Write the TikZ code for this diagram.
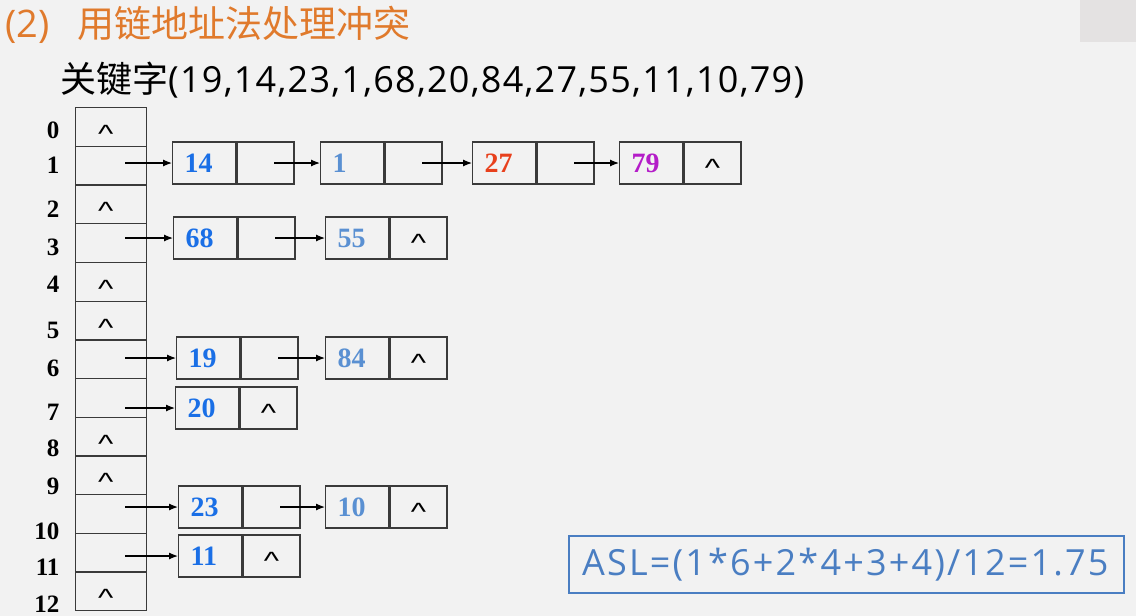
\documentclass[tikz,border=0pt]{standalone}
\usepackage{fontspec}
\usepackage{graphicx}
\setmainfont{Liberation Serif}
\newfontfamily\cjk{Noto Sans CJK SC}
\newfontfamily\osans{Open Sans}
\newfontfamily\osanskeys[LetterSpace=3.5]{Open Sans}
\newfontfamily\osansasl[LetterSpace=6]{Open Sans}
\newfontfamily\caretfont{Liberation Sans}
\usetikzlibrary{arrows.meta,calc}
\definecolor{bgc}{HTML}{F2F2F2}
\definecolor{cornerc}{HTML}{E4E2E2}
\definecolor{boxc}{HTML}{3A3A3A}
\definecolor{orangec}{HTML}{E07A2C}
\definecolor{dblue}{HTML}{1A6FE6}
\definecolor{lblue}{HTML}{5A90D2}
\definecolor{redc}{HTML}{E8401C}
\definecolor{purc}{HTML}{B41CC8}
\definecolor{aslc}{HTML}{4A7EC2}
\newcommand{\caretsym}{{\caretfont\scalebox{1.3}[1]{\textasciicircum}}}
\newcommand{\tcaret}{\makebox[0pt]{\kern-11pt\caretsym}}
\newcommand{\lelem}[6]{%
  \node[keycell, text=#5] (k#1) at (#2,#3) {#4};
  \node[ptrcell] (p#1) at (k#1.east) {#6};}
\begin{document}
\begin{tikzpicture}[x=1pt,y=-1pt,
  tcell/.style={draw=boxc, line width=1.3pt, minimum width=71pt, minimum height=38.7pt,
    inner sep=0pt, anchor=north west, font=\fontsize{25}{25}\selectfont,
    text height=31pt, text depth=0pt},
  keycell/.style={draw=boxc, line width=1.3pt, minimum width=63pt, minimum height=42pt,
    inner xsep=12pt, inner ysep=0pt, text width=39pt, align=left, anchor=west,
    font=\fontsize{28}{28}\bfseries\selectfont},
  ptrcell/.style={draw=boxc, line width=1.3pt, minimum width=57pt, minimum height=42pt,
    inner sep=0pt, anchor=west, font=\fontsize{25}{25}\selectfont,
    text height=27pt, text depth=0pt},
  idx/.style={anchor=east, font=\fontsize{25}{25}\bfseries\selectfont},
  arr/.style={line width=1.2pt, -{Latex[length=9pt,width=7pt]}}]
\fill[bgc] (0,0) rectangle (1136,616);
\fill[cornerc] (1080,0) rectangle (1136,42);
\useasboundingbox (0,0) rectangle (1136,616);

% headings
\node[anchor=base west, text=orangec, inner sep=0pt, font=\osans\fontsize{38}{40}\selectfont] (title) at (5,37)
  {(2)\hspace{28pt}{\cjk\fontsize{37}{40}\selectfont 用链地址法处理冲突}};
\node[anchor=base west, inner sep=0pt, font=\osanskeys\fontsize{36}{40}\selectfont] (keys) at (60,92)
  {{\cjk 关键字}(19,14,23,1,68,20,84,27,55,11,10,79)};

% hash table
\foreach \i/\t in {0/\tcaret,1/,2/\tcaret,3/,4/\tcaret,5/\tcaret,6/,7/,
  8/\tcaret,9/\tcaret,10/,11/,12/\tcaret}{
  \node[tcell] (r\i) at (75,{107+38.7*\i}) {\t};
}
% indices
\foreach \i/\y in {0/130,1/165,2/209,3/247,4/284,5/330,6/368,7/412,8/448,9/486,10/531,11/567,12/604}{
  \node[idx] (l\i) at (63,\y) {\i};
}

% chains
\lelem{14}{172}{163}{14}{dblue}{}
\lelem{1}{320}{163}{1}{lblue}{}
\lelem{27}{472}{163}{27}{redc}{}
\lelem{79}{619}{163}{79}{purc}{\caretsym}
\lelem{68}{173}{238}{68}{dblue}{}
\lelem{55}{325}{238}{55}{lblue}{\caretsym}
\lelem{19}{176}{358}{19}{dblue}{}
\lelem{84}{325}{358}{84}{lblue}{\caretsym}
\lelem{20}{175}{408}{20}{dblue}{\caretsym}
\lelem{23}{178}{507}{23}{dblue}{}
\lelem{10}{325}{507}{10}{lblue}{\caretsym}
\lelem{11}{178}{556}{11}{dblue}{\caretsym}

% arrows from table
\foreach \r/\k in {1/14,3/68,6/19,7/20,10/23,11/11}{
  \draw[arr] ($(r\r.center |- k\k.west)+(14,0)$) -- (k\k.west);
}
% arrows along chains
\foreach \a/\b in {14/1,1/27,27/79,68/55,19/84,23/10}{
  \draw[arr] ($(p\a.center)+(9,0)$) -- (k\b.west);
}

% ASL box
\node[draw=aslc, line width=2.2pt, anchor=north west, minimum width=555pt, minimum height=57pt,
  inner sep=0pt] (aslbox) at (568,535) {};
\node[anchor=base west, inner sep=0pt, text=aslc, font=\osansasl\fontsize{36}{40}\selectfont] (asl) at (582,575)
  {ASL=(1*6+2*4+3+4)/12=1.75};
\end{tikzpicture}
\end{document}
